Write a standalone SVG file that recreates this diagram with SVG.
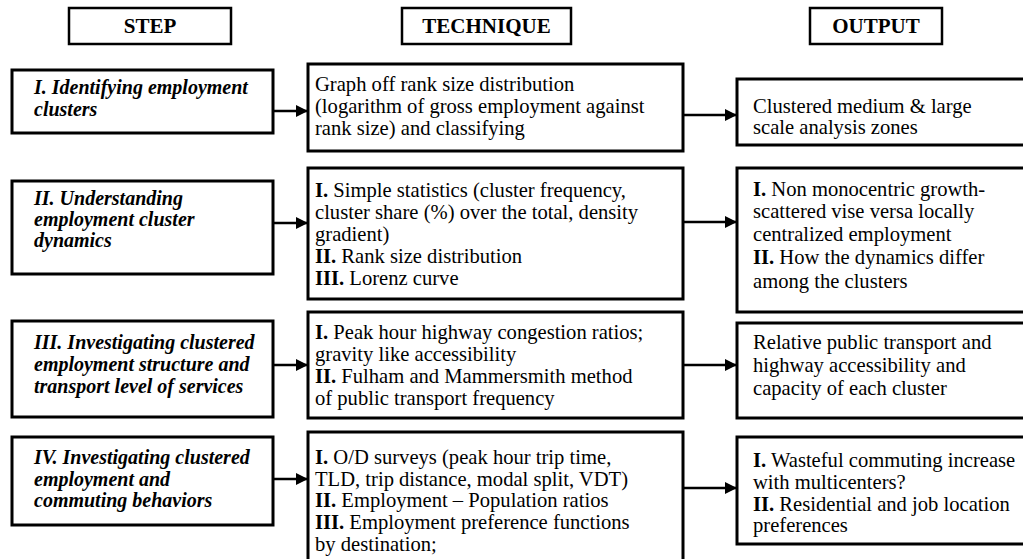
<svg xmlns="http://www.w3.org/2000/svg" width="1023" height="559" viewBox="0 0 1023 559">
<style>
  .box{fill:#fff;stroke:#000;stroke-width:3}
  .hdr{fill:#fff;stroke:#000;stroke-width:2.5}
  text{font-family:"Liberation Serif","Times New Roman",serif;font-size:20.6px;fill:#000}
  .h{font-weight:bold;text-anchor:middle;font-size:21px}
  .s{font-weight:bold;font-style:italic;font-size:20px}
  .b{font-weight:bold}
  .ln{stroke:#000;stroke-width:2.5;fill:none}
</style>
<defs>
  <marker id="ah" viewBox="0 0 10 10" refX="10" refY="5" markerWidth="12" markerHeight="12" markerUnits="userSpaceOnUse" orient="auto">
    <path d="M0,0 L10,5 L0,10 Z" fill="#000"/>
  </marker>
</defs>
<rect width="1023" height="559" fill="#fff"/>

<g id="hdr-step"><rect class="hdr" x="69" y="8" width="162" height="36"/><text class="h" x="150" y="33">STEP</text></g>
<g id="hdr-technique"><rect class="hdr" x="402" y="8" width="169" height="36"/><text class="h" x="486.5" y="33">TECHNIQUE</text></g>
<g id="hdr-output"><rect class="hdr" x="810" y="8" width="132" height="36"/><text class="h" x="876" y="33">OUTPUT</text></g>

<g id="connectors">
  <line class="ln" x1="273" y1="111" x2="308" y2="111" marker-end="url(#ah)"/>
  <line class="ln" x1="683" y1="115" x2="737" y2="115" marker-end="url(#ah)"/>
  <line class="ln" x1="273" y1="223" x2="308" y2="223" marker-end="url(#ah)"/>
  <line class="ln" x1="683" y1="222" x2="737" y2="222" marker-end="url(#ah)"/>
  <line class="ln" x1="273" y1="365" x2="308" y2="365" marker-end="url(#ah)"/>
  <line class="ln" x1="683" y1="365" x2="737" y2="365" marker-end="url(#ah)"/>
  <line class="ln" x1="273" y1="479" x2="308" y2="479" marker-end="url(#ah)"/>
  <line class="ln" x1="683" y1="488" x2="737" y2="488" marker-end="url(#ah)"/>
</g>

<g id="step1"><rect class="box" x="12" y="70" width="261" height="63"/>
  <text class="s" x="34" y="94">I. Identifying employment</text>
  <text class="s" x="34" y="116">clusters</text></g>
<g id="tech1"><rect class="box" x="308" y="64" width="375" height="87"/>
  <text x="315" y="91">Graph off rank size distribution</text>
  <text x="315" y="113">(logarithm of gross employment against</text>
  <text x="315" y="135">rank size) and classifying</text></g>
<g id="out1"><rect class="box" x="737" y="79" width="300" height="66"/>
  <text x="753" y="113">Clustered medium &amp; large</text>
  <text x="753" y="134">scale analysis zones</text></g>

<g id="step2"><rect class="box" x="12" y="181" width="261" height="93"/>
  <text class="s" x="34" y="205">II. Understanding</text>
  <text class="s" x="34" y="226">employment cluster</text>
  <text class="s" x="34" y="247">dynamics</text></g>
<g id="tech2"><rect class="box" x="308" y="168" width="375" height="131"/>
  <text x="315" y="197"><tspan class="b">I.</tspan> Simple statistics (cluster frequency,</text>
  <text x="315" y="219">cluster share (%) over the total, density</text>
  <text x="315" y="241">gradient)</text>
  <text x="315" y="263"><tspan class="b">II.</tspan> Rank size distribution</text>
  <text x="315" y="285"><tspan class="b">III.</tspan> Lorenz curve</text></g>
<g id="out2"><rect class="box" x="737" y="168" width="300" height="144"/>
  <text x="753" y="196"><tspan class="b">I.</tspan> Non monocentric growth-</text>
  <text x="753" y="218">scattered vise versa locally</text>
  <text x="753" y="241">centralized employment</text>
  <text x="753" y="264"><tspan class="b">II.</tspan> How the dynamics differ</text>
  <text x="753" y="288">among the clusters</text></g>

<g id="step3"><rect class="box" x="12" y="321" width="261" height="96"/>
  <text class="s" x="34" y="349">III. Investigating clustered</text>
  <text class="s" x="34" y="371">employment structure and</text>
  <text class="s" x="34" y="393">transport level of services</text></g>
<g id="tech3"><rect class="box" x="308" y="312" width="375" height="106"/>
  <text x="315" y="339"><tspan class="b">I.</tspan> Peak hour highway congestion ratios;</text>
  <text x="315" y="361">gravity like accessibility</text>
  <text x="315" y="383"><tspan class="b">II.</tspan> Fulham and Mammersmith method</text>
  <text x="315" y="405">of public transport frequency</text></g>
<g id="out3"><rect class="box" x="737" y="323" width="300" height="95"/>
  <text x="753" y="349">Relative public transport and</text>
  <text x="753" y="372">highway accessibility and</text>
  <text x="753" y="395">capacity of each cluster</text></g>

<g id="step4"><rect class="box" x="12" y="437" width="261" height="88"/>
  <text class="s" x="34" y="464">IV. Investigating clustered</text>
  <text class="s" x="34" y="486">employment and</text>
  <text class="s" x="34" y="507">commuting behaviors</text></g>
<g id="tech4"><rect class="box" x="308" y="432" width="375" height="140"/>
  <text x="315" y="464"><tspan class="b">I.</tspan> O/D surveys (peak hour trip time,</text>
  <text x="315" y="486">TLD, trip distance, modal split, VDT)</text>
  <text x="315" y="507"><tspan class="b">II.</tspan> Employment – Population ratios</text>
  <text x="315" y="529"><tspan class="b">III.</tspan> Employment preference functions</text>
  <text x="315" y="551">by destination;</text></g>
<g id="out4"><rect class="box" x="737" y="437" width="300" height="107"/>
  <text x="753" y="467"><tspan class="b">I.</tspan> Wasteful commuting increase</text>
  <text x="753" y="489">with multicenters?</text>
  <text x="753" y="511"><tspan class="b">II.</tspan> Residential and job location</text>
  <text x="753" y="532">preferences</text></g>
</svg>
